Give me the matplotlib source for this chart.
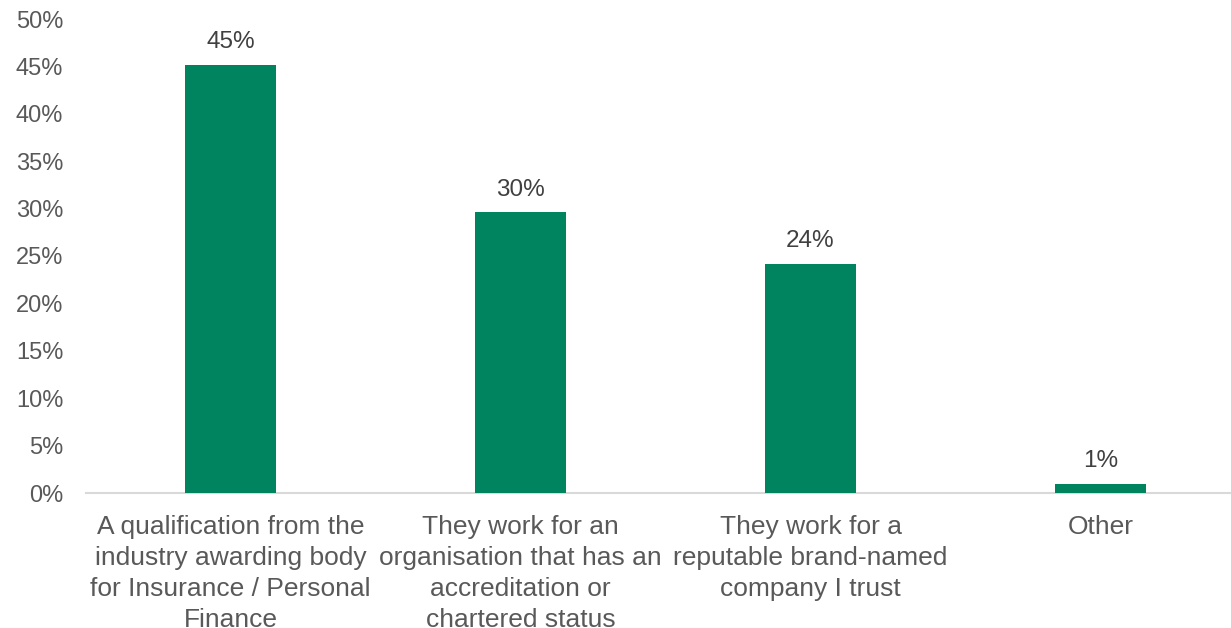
import matplotlib.pyplot as plt
from matplotlib.ticker import FuncFormatter, MultipleLocator

categories = [
    "A qualification from the\nindustry awarding body\nfor Insurance / Personal\nFinance",
    "They work for an\norganisation that has an\naccreditation or\nchartered status",
    "They work for a\nreputable brand-named\ncompany I trust",
    "Other",
]
shares = [45.2, 29.6, 24.2, 1.0]

BAR_COLOR = "#00835F"
TEXT_COLOR = "#595959"
LABEL_COLOR = "#404040"

plt.rcParams["font.family"] = ["Liberation Sans", "DejaVu Sans"]

fig = plt.figure(figsize=(12.31, 6.28), dpi=100)
# plot area runs past the right edge, as in the exported slide
ax = fig.add_axes([85.5 / 1231, 1 - 493 / 628, 1160 / 1231, 474 / 628])

x = range(len(categories))
bars = ax.bar(x, shares, width=0.314, color=BAR_COLOR, zorder=3)

for bar, val in zip(bars, shares):
    ax.annotate(
        f"{val:.0f}%",
        (bar.get_x() + bar.get_width() / 2, val),
        xytext=(0, 8),
        textcoords="offset points",
        ha="center",
        va="bottom",
        fontsize=17.5,
        color=LABEL_COLOR,
    )

ax.set_xlim(-0.5, 3.5)
ax.set_ylim(0, 50)
ax.yaxis.set_major_locator(MultipleLocator(5))
ax.yaxis.set_major_formatter(FuncFormatter(lambda v, _: f"{v:.0f}%"))

ax.set_xticks(list(x))
ax.set_xticklabels(categories, linespacing=1.36)
ax.tick_params(axis="x", length=0, pad=16, labelsize=19, labelcolor=TEXT_COLOR)
ax.tick_params(axis="y", length=0, pad=16, labelsize=17, labelcolor=TEXT_COLOR)

for side in ("top", "right", "left"):
    ax.spines[side].set_visible(False)
ax.spines["bottom"].set_color("#D9D9D9")
ax.spines["bottom"].set_linewidth(1.5)

fig.savefig("out.png", dpi=100)
